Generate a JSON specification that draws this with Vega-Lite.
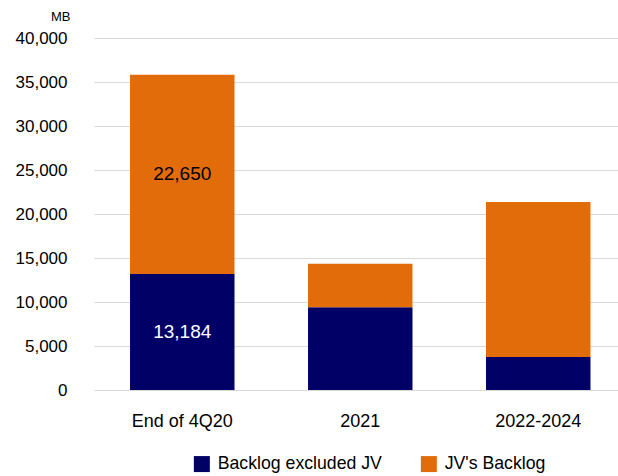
{
  "$schema": "https://vega.github.io/schema/vega-lite/v6.json",
  "autosize": "none",
  "width": 524,
  "height": 352,
  "padding": {"left": 94, "top": 38, "right": 0, "bottom": 86},
  "background": "white",
  "config": {
    "view": {"stroke": null},
    "font": "Liberation Sans",
    "axis": {"labelFont": "Liberation Sans", "titleFont": "Liberation Sans", "labelColor": "#000000", "titleColor": "#000000"},
    "legend": {"labelFont": "Liberation Sans"}
  },
  "data": {
    "values": [
      {"category": "End of 4Q20", "series": "Backlog excluded JV", "value": 13184},
      {"category": "End of 4Q20", "series": "JV's Backlog", "value": 22650},
      {"category": "2021", "series": "Backlog excluded JV", "value": 9400},
      {"category": "2021", "series": "JV's Backlog", "value": 4960},
      {"category": "2022-2024", "series": "Backlog excluded JV", "value": 3750},
      {"category": "2022-2024", "series": "JV's Backlog", "value": 17610}
    ]
  },
  "encoding": {
    "x": {
      "field": "category",
      "type": "nominal",
      "sort": ["End of 4Q20", "2021", "2022-2024"],
      "scale": {"paddingInner": 0.413, "paddingOuter": 0.1785, "align": 0.567},
      "axis": {"title": null, "labelAngle": 0, "ticks": false, "domain": false, "labelFontSize": 18, "labelPadding": 22, "labelBaseline": "top"}
    }
  },
  "layer": [
    {
      "mark": {"type": "bar"},
      "encoding": {
        "y": {
          "field": "value",
          "type": "quantitative",
          "stack": "zero",
          "scale": {"domain": [0, 40000]},
          "axis": {
            "title": "MB",
            "titleAngle": 0,
            "titleFontSize": 13,
            "titleFontWeight": "normal",
            "titleAlign": "right",
            "titleBaseline": "alphabetic",
            "titleX": -24,
            "titleY": -18,
            "values": [0, 5000, 10000, 15000, 20000, 25000, 30000, 35000, 40000],
            "format": ",.0f",
            "labelFontSize": 17,
            "labelPadding": 27,
            "ticks": false,
            "domain": false,
            "grid": true,
            "gridColor": "#d9d9d9",
            "gridWidth": 1
          }
        },
        "color": {
          "field": "series",
          "type": "nominal",
          "scale": {"domain": ["Backlog excluded JV", "JV's Backlog"], "range": ["#000066", "#E36C0A"]},
          "legend": {
            "title": null,
            "orient": "none",
            "direction": "horizontal",
            "legendX": 99,
            "legendY": 417,
            "padding": 0,
            "symbolType": "square",
            "symbolSize": 256,
            "symbolStrokeWidth": 0,
            "symbolOpacity": 1,
            "labelFontSize": 17.7,
            "labelColor": "#000000",
            "labelOffset": 7,
            "labelLimit": 400,
            "columnPadding": 38
          }
        },
        "order": {"field": "series", "sort": "ascending"}
      }
    },
    {
      "transform": [
        {"stack": "value", "groupby": ["category"], "sort": [{"field": "series", "order": "ascending"}], "as": ["v0", "v1"]},
        {"calculate": "(datum.v0 + datum.v1) / 2", "as": "mid"},
        {"filter": "datum.category === 'End of 4Q20'"}
      ],
      "mark": {"type": "text", "fontSize": 19, "baseline": "middle", "align": "center"},
      "encoding": {
        "y": {"field": "mid", "type": "quantitative"},
        "text": {"field": "value", "type": "quantitative", "format": ","},
        "color": {
          "condition": {"test": "datum.series === 'Backlog excluded JV'", "value": "#ffffff"},
          "value": "#000000"
        }
      }
    }
  ]
}
